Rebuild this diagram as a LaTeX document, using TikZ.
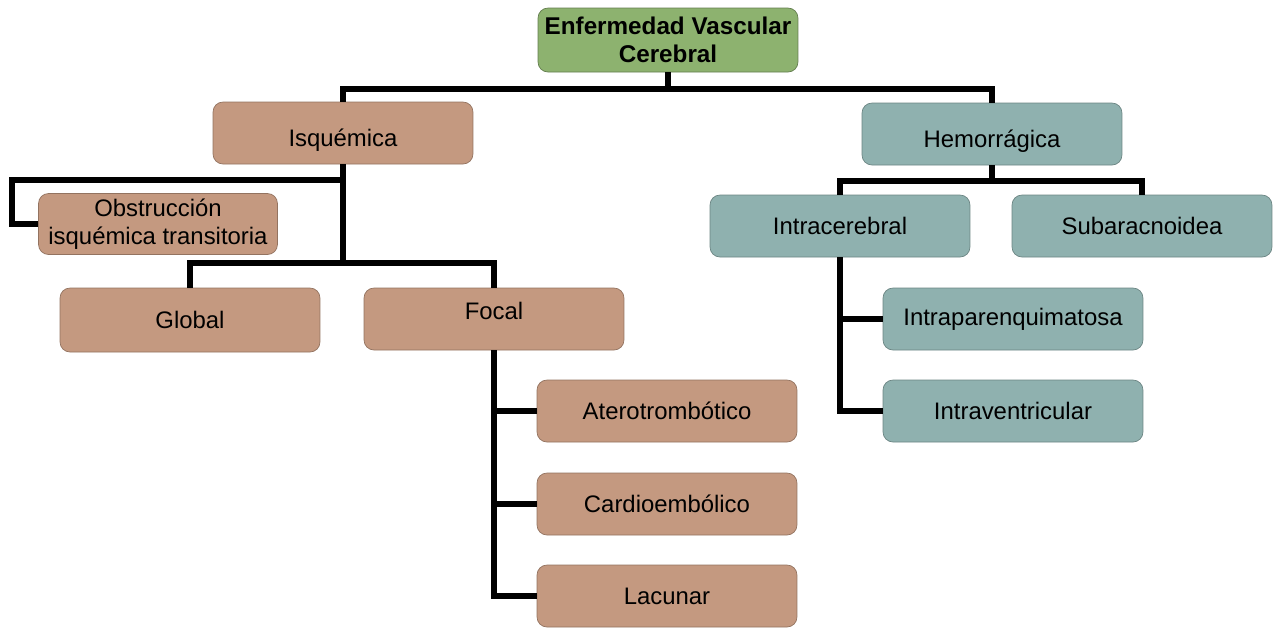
\documentclass[tikz,border=0pt]{standalone}
\usepackage{fontspec}
\setmainfont{Liberation Sans}
\definecolor{rootgreen}{RGB}{141,178,111}
\definecolor{isqbrown}{RGB}{196,153,128}
\definecolor{hemteal}{RGB}{143,177,175}
\tikzset{
  box/.style={rectangle,rounded corners=2mm,minimum width=5.2cm,minimum height=1.24cm,
    align=center,font=\fontsize{13.6}{16}\selectfont,inner sep=1mm},
  rootbox/.style={box,fill=rootgreen,draw=rootgreen!70!black,font=\fontsize{13.8}{16}\selectfont\bfseries},
  isqbox/.style={box,fill=isqbrown,draw=isqbrown!75!black},
  hembox/.style={box,fill=hemteal,draw=hemteal!75!black},
  lowtext/.style={text height=0.65cm,text depth=0.1cm},
  hightext/.style={text height=0.35cm,text depth=0.35cm},
  link/.style={draw=black,line width=3.1pt}
}
\begin{document}
\begin{tikzpicture}[x=0.02cm,y=-0.02cm]
\useasboundingbox (0,0) rectangle (1276,627);

\node[rootbox,minimum height=1.28cm] (root) at (668,40) {Enfermedad Vascular\\Cerebral};

\node[isqbox,lowtext] (isq) at (343,133) {Isquémica};
\node[hembox,lowtext] (hem) at (992,134) {Hemorrágica};

\node[isqbox,minimum width=4.78cm,minimum height=1.22cm] (obs) at (158,224) {Obstrucción\\isquémica transitoria};
\node[isqbox,minimum height=1.28cm] (glob) at (190,320) {Global};
\node[isqbox,hightext] (foc) at (494,319) {Focal};

\node[isqbox] (ater) at (667,411) {Aterotrombótico};
\node[isqbox] (card) at (667,504) {Cardioembólico};
\node[isqbox] (lac) at (667,596) {Lacunar};

\node[hembox] (intra) at (840,226) {Intracerebral};
\node[hembox] (suba) at (1142,226) {Subaracnoidea};
\node[hembox] (ipar) at (1013,319) {Intraparenquimatosa};
\node[hembox] (ivent) at (1013,411) {Intraventricular};

% junctions
\coordinate (j0) at (668,89);
\coordinate (j1) at (343,180);
\coordinate (k1) at (12,180);
\coordinate (j2) at (343,263);
\coordinate (j3) at (992,181);

\draw[link] (root.south) -- (j0);
\draw[link] (isq.north) |- (j0) -| (hem.north);

\draw[link] (isq.south) -- (j2);
\draw[link] (j1) -- (k1) |- (obs.west);
\draw[link] (glob.north) |- (j2) -| (foc.north);

\draw[link] (foc.south) |- (ater.west);
\draw[link] (foc.south) |- (card.west);
\draw[link] (foc.south) |- (lac.west);

\draw[link] (hem.south) -- (j3);
\draw[link] (intra.north) |- (j3) -| (suba.north);
\draw[link] (intra.south) |- (ipar.west);
\draw[link] (intra.south) |- (ivent.west);

\end{tikzpicture}
\end{document}
